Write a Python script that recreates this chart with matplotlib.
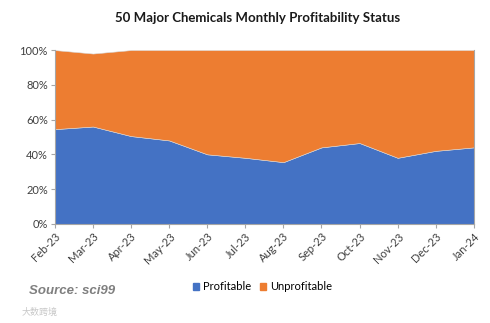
import matplotlib.pyplot as plt
from matplotlib.ticker import FuncFormatter, MultipleLocator
from matplotlib.patches import Patch

months = ["Feb-23", "Mar-23", "Apr-23", "May-23", "Jun-23", "Jul-23",
          "Aug-23", "Sep-23", "Oct-23", "Nov-23", "Dec-23", "Jan-24"]
profitable = [54.5, 56, 50.5, 48, 40, 38, 35.5, 44, 46.5, 38, 42, 44]
unprofitable = [45.5, 42, 49.5, 52, 60, 62, 64.5, 56, 53.5, 62, 58, 56]

BLUE = "#4472C4"
ORANGE = "#ED7D31"
AXIS_GREY = "#A6A6A6"

plt.rcParams["font.family"] = ["Lato", "DejaVu Sans"]

fig = plt.figure(figsize=(4.9, 3.23), dpi=100)
ax = fig.add_axes([0.112, 0.307, 0.855, 0.538])

x = list(range(len(months)))
ax.stackplot(x, profitable, unprofitable, colors=[BLUE, ORANGE],
             edgecolor="#D9D9D9", linewidth=0.4)

ax.set_xlim(0, len(months) - 1)
ax.set_ylim(0, 100)
ax.yaxis.set_major_locator(MultipleLocator(20))
ax.yaxis.set_major_formatter(FuncFormatter(lambda v, p: f"{int(v)}%"))
ax.set_xticks(x)
ax.set_xticklabels(months, rotation=45, ha="right", rotation_mode="anchor")

ax.spines["top"].set_visible(False)
for side in ("left", "bottom", "right"):
    ax.spines[side].set_color(AXIS_GREY)
    ax.spines[side].set_linewidth(0.8)
ax.tick_params(axis="both", colors=AXIS_GREY, length=3, width=0.8,
               labelsize=8, labelcolor="#404040", pad=2)

fig.text(0.525, 0.945, "50 Major Chemicals Monthly Profitability Status",
         ha="center", va="center", fontsize=9.5, fontweight="bold", color="#1a1a1a")

handles = [Patch(color=BLUE, label="Profitable"),
           Patch(color=ORANGE, label="Unprofitable")]
fig.legend(handles=handles, loc="center", bbox_to_anchor=(0.535, 0.113), ncol=2,
           frameon=False, fontsize=8, handlelength=0.6, handleheight=0.6,
           handletextpad=0.3, columnspacing=0.8)

fig.text(0.06, 0.098, "Source: sci99", ha="left", va="center", fontsize=9.5,
         fontweight="bold", fontstyle="italic", color="#7F7F7F",
         family=["Liberation Sans", "DejaVu Sans"])
fig.text(0.045, 0.035, "大数跨境", ha="left", va="center", fontsize=6.5,
         color="#C8C8C8", family=["Noto Sans CJK SC", "DejaVu Sans"])

fig.savefig("out.png", dpi=100)
